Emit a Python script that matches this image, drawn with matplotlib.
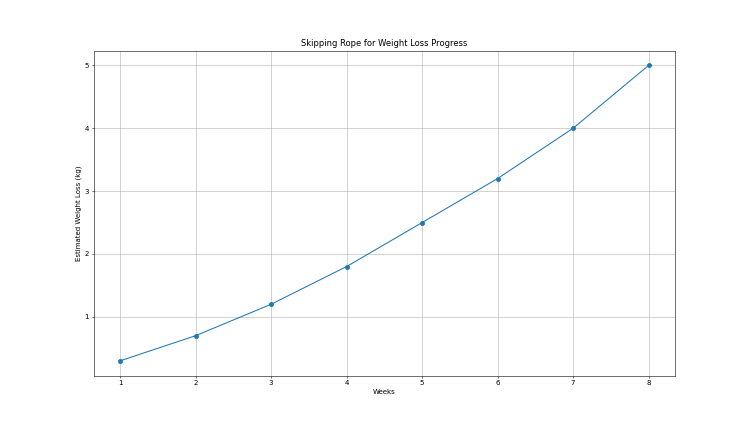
import matplotlib
matplotlib.use("Agg")
import matplotlib.pyplot as plt

weeks = [1, 2, 3, 4, 5, 6, 7, 8]
weight_loss = [0.3, 0.7, 1.2, 1.8, 2.5, 3.2, 4.0, 5.0]

fig, ax = plt.subplots(figsize=(15, 8.44), dpi=50)
ax.plot(weeks, weight_loss, marker='o')
ax.set_title('Skipping Rope for Weight Loss Progress')
ax.set_xlabel('Weeks')
ax.set_ylabel('Estimated Weight Loss (kg)')
ax.grid(True)
fig.savefig('out.png', dpi=50)
